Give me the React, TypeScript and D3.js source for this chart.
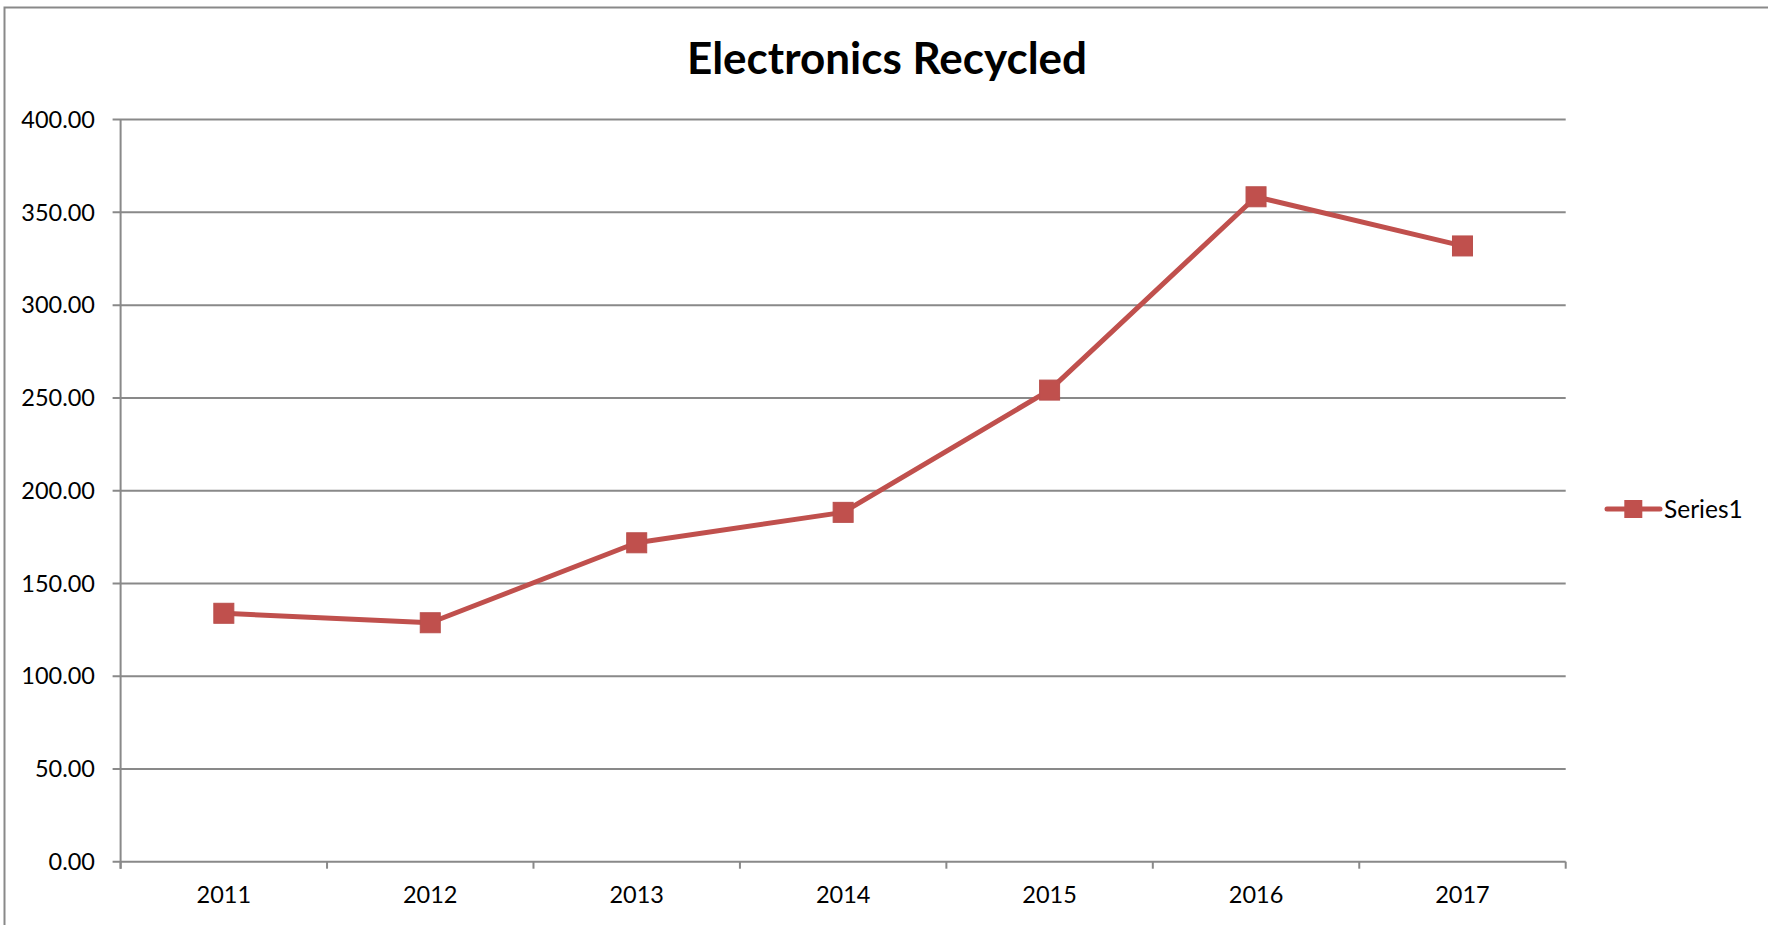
import React from "react";
import * as d3 from "d3";

const categories = ["2011", "2012", "2013", "2014", "2015", "2016", "2017"];
const values = [133.9, 128.8, 171.9, 188.3, 254.2, 358.4, 331.9];
const yTicks = [0, 50, 100, 150, 200, 250, 300, 350, 400];
const title = "Electronics Recycled";
const seriesName = "Series1";

const W = 1768;
const H = 925;
const left = 120.6;
const right = 1565.7;
const top = 119.6;
const bottom = 861.7;
const RED = "#C0504D";
const GRID = "#898989";
const FONT = "Lato, 'Noto Sans', sans-serif";

export default function App() {
  const x = d3.scaleBand<string>().domain(categories).range([left, right]);
  const y = d3.scaleLinear().domain([0, 400]).range([bottom, top]);
  const cx = (c: string) => (x(c) as number) + x.bandwidth() / 2;
  const line = d3
    .line<number>()
    .x((_, i) => cx(categories[i]))
    .y((v) => y(v));
  const ms = 20;
  const boundaries = d3.range(categories.length + 1).map((i) => left + i * x.bandwidth());

  return (
    <svg
      width={W}
      height={H}
      style={{ position: "absolute", left: 0, top: 0, display: "block", background: "#fff" }}
    >
      <rect x={4.5} y={7.5} width={W + 20} height={H + 20} fill="#fff" stroke={GRID} strokeWidth={2} />
      <text
        x={887}
        y={74}
        textAnchor="middle"
        fontFamily={FONT}
        fontWeight={700}
        fontSize={44}
        fill="#000"
      >
        {title}
      </text>
      {yTicks.map((t) => (
        <g key={t}>
          <line x1={left - 8} x2={right} y1={y(t)} y2={y(t)} stroke={GRID} strokeWidth={2} />
          <text
            x={95}
            y={y(t)}
            dy="0.35em"
            textAnchor="end"
            fontFamily={FONT}
            fontSize={23.5}
            fill="#000"
          >
            {t.toFixed(2)}
          </text>
        </g>
      ))}
      <line x1={left} x2={left} y1={top} y2={bottom + 7} stroke={GRID} strokeWidth={2} />
      {boundaries.map((b, i) => (
        <line key={i} x1={b} x2={b} y1={bottom} y2={bottom + 7} stroke={GRID} strokeWidth={2} />
      ))}
      {categories.map((c) => (
        <text
          key={c}
          x={cx(c)}
          y={895}
          dy="0.35em"
          textAnchor="middle"
          fontFamily={FONT}
          fontSize={23.5}
          fill="#000"
        >
          {c}
        </text>
      ))}
      <path
        d={line(values) || ""}
        fill="none"
        stroke={RED}
        strokeWidth={5}
        strokeLinejoin="round"
      />
      {values.map((v, i) => (
        <rect
          key={i}
          x={cx(categories[i]) - ms / 2}
          y={y(v) - ms / 2}
          width={ms}
          height={ms}
          fill={RED}
          stroke="#B9504D"
          strokeWidth={1}
        />
      ))}
      <line x1={1607} x2={1660} y1={509} y2={509} stroke={RED} strokeWidth={5} strokeLinecap="round" />
      <rect x={1633.3 - 9} y={509 - 9} width={18} height={18} fill={RED} />
      <text x={1664} y={509} dy="0.35em" fontFamily={FONT} fontSize={24.5} fill="#000">
        {seriesName}
      </text>
    </svg>
  );
}
